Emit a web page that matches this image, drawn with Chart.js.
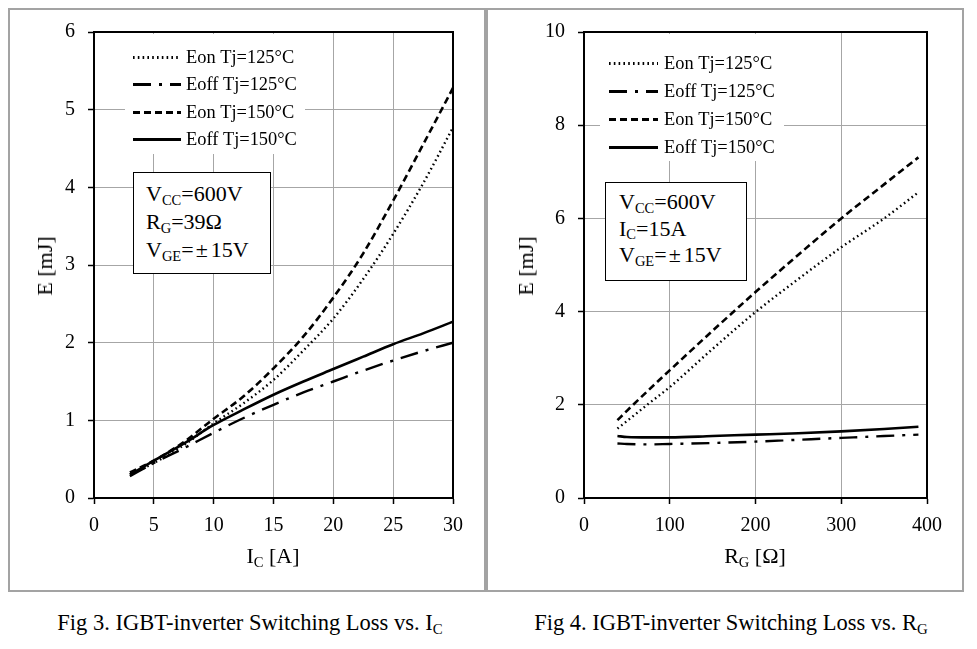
<!DOCTYPE html>
<html>
<head>
<meta charset="utf-8">
<script src="https://cdn.jsdelivr.net/npm/chart.js@4/dist/chart.umd.min.js"></script>
<style>
  html, body { margin: 0; padding: 0; background: #fff; }
  body { width: 977px; height: 649px; position: relative; overflow: hidden;
         font-family: 'Liberation Serif', 'Times New Roman', serif; color: #000; }
  .frame { position: absolute; box-sizing: border-box; border: 2px solid #a3a3a3; }
  canvas { position: absolute; }
  .abs { position: absolute; white-space: nowrap; }
  .sub { font-size: 0.66em; position: relative; top: 0.25em; line-height: 1; }
  .pbox { position: absolute; box-sizing: border-box; border: 1px solid #000; background: #fff;
          font-size: 22px; line-height: 28px; white-space: nowrap; }
  .ttl { font-size: 22px; line-height: 22px; }
  .cap { font-size: 22.5px; line-height: 24px; }
</style>
</head>
<body>
<div class="frame" style="left:8px;top:8px;width:478px;height:584px;"></div>
<div class="frame" style="left:486px;top:8px;width:478px;height:584px;"></div>
<canvas id="c3" width="475" height="580" style="left:10px;top:7px;width:475px;height:580px;"></canvas>
<canvas id="c4" width="474" height="580" style="left:488px;top:7px;width:474px;height:580px;"></canvas>

<div class="pbox" style="left:133px;top:172px;width:138px;height:102px;padding:7px 0 0 12px;">
  <div>V<span class="sub">CC</span>=600V</div>
  <div>R<span class="sub">G</span>=39Ω</div>
  <div>V<span class="sub">GE</span>=<span style="margin:0 3px 0 2px">±</span>15V</div>
</div>
<div class="pbox" style="left:605px;top:182px;width:142px;height:99px;padding:6px 0 0 13px;line-height:26.5px;">
  <div>V<span class="sub">CC</span>=600V</div>
  <div>I<span class="sub">C</span>=15A</div>
  <div>V<span class="sub">GE</span>=<span style="margin:0 3px 0 2px">±</span>15V</div>
</div>

<div class="abs ttl" style="left:45px;top:266px;transform:translate(-50%,-50%) rotate(-90deg);">E [mJ]</div>
<div class="abs ttl" style="left:526px;top:266px;transform:translate(-50%,-50%) rotate(-90deg);">E [mJ]</div>
<div class="abs ttl" style="left:273px;top:545px;transform:translateX(-50%);">I<span class="sub">C</span> [A]</div>
<div class="abs ttl" style="left:755px;top:545px;transform:translateX(-50%);">R<span class="sub">G</span> [Ω]</div>

<div class="abs cap" style="left:250px;top:611px;transform:translateX(-50%);">Fig 3. IGBT-inverter Switching Loss vs. I<span class="sub">C</span></div>
<div class="abs cap" style="left:731px;top:611px;transform:translateX(-50%);">Fig 4. IGBT-inverter Switching Loss vs. R<span class="sub">G</span></div>

<script>
// ---------- Data ----------
const seriesLabels = ['Eon Tj=125°C', 'Eoff Tj=125°C', 'Eon Tj=150°C', 'Eoff Tj=150°C'];

// Fig 3: E vs Ic
const fig3Ic      = [3, 5, 7.5, 10, 12.5, 15, 17.5, 20, 22.5, 25, 27.5, 30];
const fig3Eon125  = [0.30, 0.45, 0.68, 0.96, 1.22, 1.52, 1.90, 2.31, 2.82, 3.40, 4.05, 4.77];
const fig3Eoff125 = [0.28, 0.45, 0.64, 0.84, 1.03, 1.20, 1.36, 1.50, 1.64, 1.77, 1.89, 2.00];
const fig3Eon150  = [0.33, 0.48, 0.72, 1.02, 1.31, 1.67, 2.08, 2.58, 3.15, 3.83, 4.55, 5.28];
const fig3Eoff150 = [0.30, 0.48, 0.70, 0.94, 1.14, 1.33, 1.50, 1.66, 1.82, 1.98, 2.12, 2.27];
const fig3XTicks  = [0, 5, 10, 15, 20, 25, 30];
const fig3YTicks  = [0, 1, 2, 3, 4, 5, 6];

// Fig 4: E vs Rg
const fig4Rg      = [39, 50, 75, 100, 150, 200, 250, 300, 350, 390];
const fig4Eon125  = [1.49, 1.65, 2.02, 2.38, 3.20, 3.99, 4.70, 5.38, 6.00, 6.56];
const fig4Eoff125 = [1.17, 1.16, 1.15, 1.16, 1.18, 1.21, 1.25, 1.29, 1.33, 1.36];
const fig4Eon150  = [1.67, 1.87, 2.31, 2.74, 3.59, 4.42, 5.22, 6.00, 6.73, 7.31];
const fig4Eoff150 = [1.33, 1.31, 1.30, 1.30, 1.33, 1.36, 1.39, 1.43, 1.48, 1.53];
const fig4XTicks  = [0, 100, 200, 300, 400];
const fig4YTicks  = [0, 2, 4, 6, 8, 10];

// ---------- Styles ----------
const FONT = "'Liberation Serif', 'Times New Roman', serif";
const lineStyles = [
  { borderDash: [1.6, 3.2], borderWidth: 2.4 },          // dotted
  { borderDash: [18, 8, 3, 8], borderWidth: 2.4 },       // dash-dot
  { borderDash: [7, 4], borderWidth: 2.6 },              // dashed
  { borderDash: [], borderWidth: 2.6 }                   // solid
];

function makeDatasets(xs, ys) {
  return ys.map((arr, i) => ({
    label: seriesLabels[i],
    data: xs.map((x, j) => ({ x: x, y: arr[j] })),
    borderColor: '#000',
    borderWidth: lineStyles[i].borderWidth,
    borderDash: lineStyles[i].borderDash,
    pointRadius: 0,
    fill: false,
    cubicInterpolationMode: 'monotone'
  }));
}

const framePlugin = {
  id: 'framePlugin',
  afterDatasetsDraw(chart, args, opts) {
    const ctx = chart.ctx, a = chart.chartArea, L = opts.legend;
    ctx.save();
    ctx.fillStyle = '#fff';
    ctx.fillRect(a.left + L.box[0], a.top + L.box[1], L.box[2], L.box[3]);
    ctx.font = L.fontSize + 'px ' + FONT;
    ctx.textBaseline = 'middle';
    ctx.textAlign = 'left';
    chart.data.datasets.forEach((ds, i) => {
      const y = Math.round(a.top + L.row0 + i * L.dy) + 0.5;
      ctx.beginPath();
      ctx.setLineDash(ds.borderDash || []);
      ctx.lineWidth = ds.borderWidth + 0.4;
      ctx.strokeStyle = '#000';
      ctx.moveTo(a.left + L.x0, y);
      ctx.lineTo(a.left + L.x1, y);
      ctx.stroke();
      ctx.setLineDash([]);
      ctx.fillStyle = '#000';
      ctx.fillText(ds.label, a.left + L.tx, y + 1);
    });
    ctx.restore();
  },
  afterDraw(chart) {
    const ctx = chart.ctx, a = chart.chartArea;
    ctx.save();
    ctx.strokeStyle = '#000';
    ctx.lineWidth = 2;
    ctx.setLineDash([]);
    ctx.strokeRect(Math.round(a.left), Math.round(a.top), Math.round(a.right - a.left), Math.round(a.bottom - a.top));
    ctx.restore();
  }
};

function makeChart(id, xs, ys, xTicks, yTicks, yAxisW, padR, legend) {
  return new Chart(document.getElementById(id), {
    type: 'line',
    data: { datasets: makeDatasets(xs, ys) },
    options: {
      responsive: false,
      devicePixelRatio: 1,
      animation: false,
      layout: { padding: { left: 0, right: padR, top: 24, bottom: 0 } },
      plugins: {
        legend: { display: false },
        tooltip: { enabled: false },
        framePlugin: { legend: legend }
      },
      scales: {
        x: {
          type: 'linear',
          min: xTicks[0], max: xTicks[xTicks.length - 1],
          afterBuildTicks: s => { s.ticks = xTicks.map(v => ({ value: v })); },
          afterFit: s => { s.height = 89; },
          ticks: { color: '#000', font: { family: FONT, size: 20 }, padding: 10, maxRotation: 0 },
          grid: { color: '#a6a6a6', lineWidth: 1, tickColor: '#000', tickLength: 6, tickWidth: 1.5 },
          border: { color: '#000', width: 2 }
        },
        y: {
          type: 'linear',
          min: yTicks[0], max: yTicks[yTicks.length - 1],
          afterBuildTicks: s => { s.ticks = yTicks.map(v => ({ value: v })); },
          afterFit: s => { s.width = yAxisW; },
          ticks: { color: '#000', font: { family: FONT, size: 20 }, padding: 13 },
          grid: { color: '#a6a6a6', lineWidth: 1, tickColor: '#000', tickLength: 6, tickWidth: 1.5 },
          border: { color: '#000', width: 2 }
        }
      }
    },
    plugins: [framePlugin]
  });
}

makeChart('c3', fig3Ic, [fig3Eon125, fig3Eoff125, fig3Eon150, fig3Eoff150],
  fig3XTicks, fig3YTicks, 84, 32,
  { box: [31, 2, 180, 120], x0: 39, x1: 87, tx: 92, row0: 25, dy: 27.3, fontSize: 18.4 });

makeChart('c4', fig4Rg, [fig4Eon125, fig4Eoff125, fig4Eon150, fig4Eoff150],
  fig4XTicks, fig4YTicks, 96, 35,
  { box: [16, 2, 184, 127], x0: 25, x1: 74, tx: 80, row0: 31, dy: 28, fontSize: 18.4 });
</script>
</body>
</html>
